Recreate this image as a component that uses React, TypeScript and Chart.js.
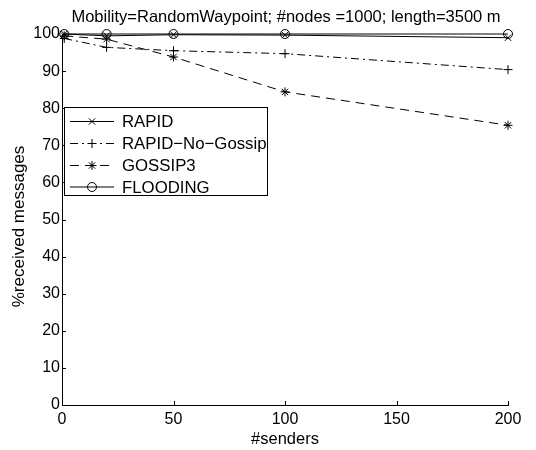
import React, { useEffect, useRef } from "react";
import { Chart, registerables } from "chart.js";
import { drawPoint } from "chart.js/helpers";

Chart.register(...registerables);

const senders = [1, 20, 50, 100, 200];
const rapid = [100, 99.5, 99.8, 99.7, 99.0];
const rapidNoGossip = [98.8, 96.4, 95.5, 94.7, 90.4];
const gossip3 = [99.5, 98.6, 93.8, 84.4, 75.4];
const flooding = [100, 100, 100, 100, 100];

const titleText = "Mobility=RandomWaypoint; #nodes =1000; length=3500 m";
const xTitle = "#senders";
const yTitle = "%received messages";
const FONT = "'Liberation Sans', Arial, Helvetica, sans-serif";

const textPlugin = {
  id: "customText",
  afterDraw(chart: any) {
    const ctx = chart.ctx;
    const a = chart.chartArea;
    ctx.save();
    ctx.fillStyle = "#000";
    ctx.font = `16.5px ${FONT}`;
    ctx.textAlign = "center";
    ctx.textBaseline = "alphabetic";
    ctx.fillText(titleText, (a.left + a.right) / 2 + 1, 21.5);
    ctx.translate(19, 226.5);
    ctx.rotate(-Math.PI / 2);
    ctx.font = `17px ${FONT}`;
    ctx.textBaseline = "middle";
    ctx.fillText(yTitle, 0, 0);
    ctx.restore();
  },
};

const ticksPlugin = {
  id: "inwardTicks",
  afterDatasetsDraw(chart: any) {
    const ctx = chart.ctx;
    const a = chart.chartArea;
    const xs = chart.scales.x;
    const ys = chart.scales.y;
    ctx.save();
    ctx.strokeStyle = "#000";
    ctx.lineWidth = 1;
    ctx.beginPath();
    ys.ticks.forEach((t: any) => {
      const p = Math.round(ys.getPixelForValue(t.value)) + 0.5;
      ctx.moveTo(a.left, p);
      ctx.lineTo(a.left + 4, p);
    });
    xs.ticks.forEach((t: any) => {
      const p = Math.round(xs.getPixelForValue(t.value)) + 0.5;
      ctx.moveTo(p, a.bottom);
      ctx.lineTo(p, a.bottom - 4);
    });
    ctx.stroke();
    ctx.restore();
  },
};

const legendPlugin = {
  id: "customLegend",
  afterDraw(chart: any) {
    const ctx = chart.ctx;
    const x0 = 64.5, y0 = 107.5, w = 203, h = 88;
    ctx.save();
    ctx.fillStyle = "#fff";
    ctx.fillRect(x0, y0, w, h);
    ctx.strokeStyle = "#000";
    ctx.lineWidth = 1;
    ctx.setLineDash([]);
    ctx.strokeRect(x0, y0, w, h);
    const rowY = [121.5, 143.5, 165.5, 187];
    chart.data.datasets.forEach((ds: any, i: number) => {
      const y = rowY[i];
      ctx.save();
      ctx.strokeStyle = "#000";
      ctx.lineWidth = 1;
      ctx.setLineDash(ds.borderDash || []);
      ctx.beginPath();
      ctx.moveTo(70, y);
      ctx.lineTo(114, y);
      ctx.stroke();
      ctx.setLineDash([]);
      ctx.fillStyle = ds.pointBackgroundColor;
      ctx.strokeStyle = "#000";
      drawPoint(ctx, { pointStyle: ds.pointStyle, radius: ds.pointRadius, borderWidth: 1, rotation: 0 }, 92, y);
      ctx.restore();
      ctx.fillStyle = "#000";
      ctx.font = `16.8px ${FONT}`;
      ctx.textAlign = "left";
      ctx.textBaseline = "middle";
      ctx.fillText(ds.label, 122, y + 1);
    });
    ctx.restore();
  },
};

function mk(label: string, data: number[], style: string, dash: number[]) {
  return {
    label,
    data: senders.map((x, i) => ({ x, y: data[i] })),
    borderColor: "#000",
    borderWidth: 1,
    borderDash: dash,
    pointStyle: style,
    pointRadius: 4.5,
    pointBorderColor: "#000",
    pointBorderWidth: 1,
    pointBackgroundColor: "rgba(255,255,255,0)",
    fill: false,
    tension: 0,
    clip: false as any,
  };
}

export default function App() {
  const ref = useRef<HTMLCanvasElement>(null);
  useEffect(() => {
    if (!ref.current) return;
    const chart = new Chart(ref.current, {
      type: "line",
      data: {
        datasets: [
          mk("RAPID", rapid, "crossRot", []),
          mk("RAPID\u2212No\u2212Gossip", rapidNoGossip, "cross", [8, 4, 2, 4]),
          mk("GOSSIP3", gossip3, "star", [9, 6]),
          mk("FLOODING", flooding, "circle", []),
        ],
      },
      options: {
        responsive: false,
        animation: false,
        devicePixelRatio: 1,
        layout: { padding: { top: 34, right: 28, left: 0, bottom: 0 } },
        plugins: { legend: { display: false }, title: { display: false }, tooltip: { enabled: false } },
        scales: {
          x: {
            type: "linear",
            min: 0,
            max: 200,
            ticks: { stepSize: 50, color: "#000", font: { family: FONT, size: 16 }, padding: 5, maxRotation: 0 },
            grid: { drawOnChartArea: false, drawTicks: false },
            border: { color: "#000", width: 1 },
            title: { display: true, text: xTitle, color: "#000", font: { family: FONT, size: 16.5 }, padding: { top: 0, bottom: 1 } },
            afterFit: (s: any) => { s.height = 45; },
          },
          y: {
            type: "linear",
            min: 0,
            max: 100,
            ticks: { stepSize: 10, color: "#000", font: { family: FONT, size: 16 }, padding: 2 },
            grid: { drawOnChartArea: false, drawTicks: false },
            border: { color: "#000", width: 1 },
            title: { display: false },
            afterFit: (s: any) => { s.width = 62; },
          },
        },
      },
      plugins: [textPlugin, ticksPlugin, legendPlugin],
    });
    return () => chart.destroy();
  }, []);
  return (
    <div style={{ position: "fixed", left: 0, top: 0, width: 536, height: 450, background: "#fff" }}>
      <canvas ref={ref} width={536} height={450} />
    </div>
  );
}
